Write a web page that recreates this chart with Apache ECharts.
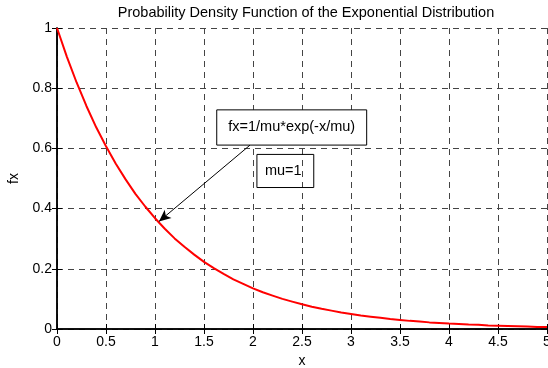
<!DOCTYPE html>
<html><head><meta charset="utf-8">
<script src="https://cdn.jsdelivr.net/npm/echarts@6/dist/echarts.min.js"></script>
<style>html,body{margin:0;padding:0;background:#fff}#c{width:548px;height:368px}</style>
</head><body><div id="c"></div>
<script>
var xValues = [0,0.1,0.2,0.3,0.4,0.5,0.6,0.7,0.8,0.9,1,1.1,1.2,1.3,1.4,1.5,1.6,1.7,1.8,1.9,2,2.1,2.2,2.3,2.4,2.5,2.6,2.7,2.8,2.9,3,3.1,3.2,3.3,3.4,3.5,3.6,3.7,3.8,3.9,4,4.1,4.2,4.3,4.4,4.5,4.6,4.7,4.8,4.9,5];
var fxValues = [1,0.905,0.819,0.741,0.670,0.607,0.549,0.497,0.449,0.407,0.368,0.333,0.301,0.273,0.247,0.223,0.202,0.183,0.165,0.150,0.135,0.122,0.111,0.100,0.091,0.082,0.074,0.067,0.061,0.055,0.050,0.045,0.041,0.037,0.033,0.030,0.027,0.025,0.022,0.020,0.018,0.017,0.015,0.014,0.012,0.011,0.010,0.009,0.008,0.007,0.007];
var xTicks = [0,0.5,1,1.5,2,2.5,3,3.5,4,4.5,5];
var yTicks = [0,0.2,0.4,0.6,0.8,1];
var titleText = 'Probability Density Function of the Exponential Distribution';
var formulaText = 'fx=1/mu*exp(-x/mu)';
var paramText = 'mu=1';
var arrowFrom = [1.97, 0.611];
var arrowTo = [1.04, 0.357];

var font = 'Liberation Sans, Arial, sans-serif';
var chart = echarts.init(document.getElementById('c'));
var pts = xValues.map(function(x,i){return [x, fxValues[i]];});
var gridLine = {show:true, lineStyle:{color:'#444', type:[6,5], width:1}};
chart.setOption({
  animation:false,
  title:{text:titleText, left:301, top:0, textAlign:'center',
    textStyle:{fontFamily:font, fontSize:14.5, fontWeight:'normal', color:'#000'}},
  grid:{left:57, right:1, top:28, bottom:39, containLabel:false, outerBoundsMode:'none'},
  xAxis:[{type:'value', min:0, max:5, interval:0.5, name:'x', nameLocation:'middle', nameGap:22,
    nameTextStyle:{fontFamily:font, fontSize:14, color:'#000'},
    axisLine:{show:true, onZero:false, lineStyle:{color:'#000', width:1.5}},
    axisTick:{show:true, inside:true, length:5, lineStyle:{color:'#000'}},
    axisLabel:{fontFamily:font, fontSize:14, color:'#000', margin:6,
      formatter:function(v){return String(v);}},
    splitLine:gridLine},
    {type:'value', position:'top', min:0, max:5, interval:0.5,
    axisLine:{show:true, lineStyle:{color:'#000', width:1.5}},
    axisTick:{show:true, inside:true, length:5, lineStyle:{color:'#000'}},
    axisLabel:{show:false}, splitLine:{show:false}}],
  yAxis:[{type:'value', min:0, max:1, interval:0.2, name:'fx', nameLocation:'middle', nameGap:32,
    nameTextStyle:{fontFamily:font, fontSize:14, color:'#000'},
    axisLine:{show:true, onZero:false, lineStyle:{color:'#000', width:1.5}},
    axisTick:{show:true, inside:true, length:5, lineStyle:{color:'#000'}},
    axisLabel:{fontFamily:font, fontSize:14, color:'#000', margin:5,
      formatter:function(v){return String(Math.round(v*10)/10);}},
    splitLine:gridLine},
    {type:'value', position:'right', min:0, max:1, interval:0.2,
    axisLine:{show:true, lineStyle:{color:'#000', width:1.5}},
    axisTick:{show:true, inside:true, length:5, lineStyle:{color:'#000'}},
    axisLabel:{show:false}, splitLine:{show:false}}],
  series:[{type:'line', data:pts, showSymbol:false, symbol:'none', smooth:false,
    lineStyle:{color:'#ff0000', width:2},
    markLine:{silent:true, symbol:['none','arrow'], symbolSize:[8,12],
      label:{show:false},
      lineStyle:{color:'#000', width:1, type:'solid'},
      data:[[{coord:arrowFrom},{coord:arrowTo}]]}}]
});
function px(p){return chart.convertToPixel({xAxisIndex:0,yAxisIndex:0}, p);}
var b1a = px([1.63, 0.728]), b1b = px([3.16, 0.611]);
var b2a = px([2.04, 0.58]), b2b = px([2.62, 0.47]);
chart.setOption({graphic:[
  {type:'rect', shape:{x:b1a[0], y:b1a[1], width:b1b[0]-b1a[0], height:b1b[1]-b1a[1]},
    style:{fill:'#fff', stroke:'#000', lineWidth:1}, z:100},
  {type:'text', x:(b1a[0]+b1b[0])/2, y:(b1a[1]+b1b[1])/2, z:101,
    style:{text:formulaText, fontFamily:font, fontSize:14.5, fill:'#000', align:'center', verticalAlign:'middle'}},
  {type:'rect', shape:{x:b2a[0], y:b2a[1], width:b2b[0]-b2a[0], height:b2b[1]-b2a[1]},
    style:{fill:'none', stroke:'#000', lineWidth:1}, z:100},
  {type:'text', x:b2a[0]+8, y:(b2a[1]+b2b[1])/2, z:101,
    style:{text:paramText, fontFamily:font, fontSize:14.5, fill:'#000', align:'left', verticalAlign:'middle'}}
]});
</script></body></html>
